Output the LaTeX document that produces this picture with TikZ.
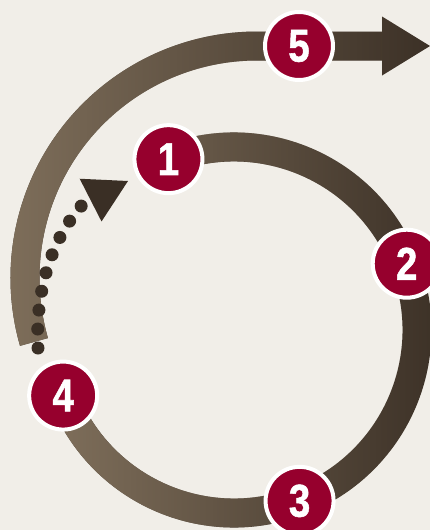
\documentclass[tikz,border=0pt]{standalone}
\usepackage{fontspec}
\setmainfont{Liberation Sans}
\newfontfamily\stagefont[FakeBold=1.2]{Liberation Sans Bold}
\usetikzlibrary{arrows.meta,backgrounds,fadings}
\definecolor{paper}{RGB}{241,238,232}
\definecolor{barklight}{RGB}{128,112,92}
\definecolor{barkdark}{RGB}{58,47,37}
\definecolor{berry}{RGB}{150,0,45}
\tikzfading[name=fade light, left color=transparent!0, right color=transparent!100]
\newcommand{\stagenum}[1]{\scalebox{0.84}[1]{#1}}

\begin{document}
\begin{tikzpicture}[
  x=1pt, y=1pt,
  band/.style={draw=barkdark, line width=29pt, postaction={draw=barklight, path fading=fade light}},
  badge/.style={circle, fill=berry, draw=white, line width=4pt, minimum size=68pt, inner sep=0pt, text=white, font=\stagefont\fontsize{46}{46}\selectfont},
  trail/.style={draw=barkdark, line width=13pt, line cap=round, dash pattern=on 0pt off 19pt},
]
  \useasboundingbox (0,0) rectangle (430,-530);
  \begin{scope}[on background layer]
    \fill[paper] (0,0) rectangle (430,-530);
  \end{scope}
  \coordinate (hub) at (234,-330);
  \coordinate (loop) at (257,-278);
  \node[badge] (stage1) at ([shift={(hub)}]111:183) {\stagenum{1}};
  \node[badge] (stage2) at ([shift={(hub)}]21:185) {\stagenum{2}};
  \node[badge] (stage3) at ([shift={(hub)}]-69:183) {\stagenum{3}};
  \node[badge] (stage4) at ([shift={(hub)}]-159:183) {\stagenum{4}};
  \node[badge] (stage5) at (299,-46) {\stagenum{5}};
  \coordinate (tail) at ([shift={(loop)}]196:232);
  \coordinate (head) at (430,-46);
  \coordinate (foot) at (38,-348);
  \coordinate (bend) at (83,-204);
  \coordinate (point) at (128,-181);
  \begin{scope}[on background layer]
    \draw[band] (stage1.center) arc[start angle=111, end angle=-159, radius=183];
    \draw[band, -{Triangle[length=48pt, width=59pt, line width=0pt]}] (tail) arc[start angle=196, end angle=90, radius=232] -- (stage5.center) -- (head);
  \end{scope}
  \draw[trail, -{Triangle[length=42pt, width=48pt, line width=0pt]}] (foot) .. controls (35,-290) and (52,-238) .. (bend) -- (point);
\end{tikzpicture}
\end{document}
